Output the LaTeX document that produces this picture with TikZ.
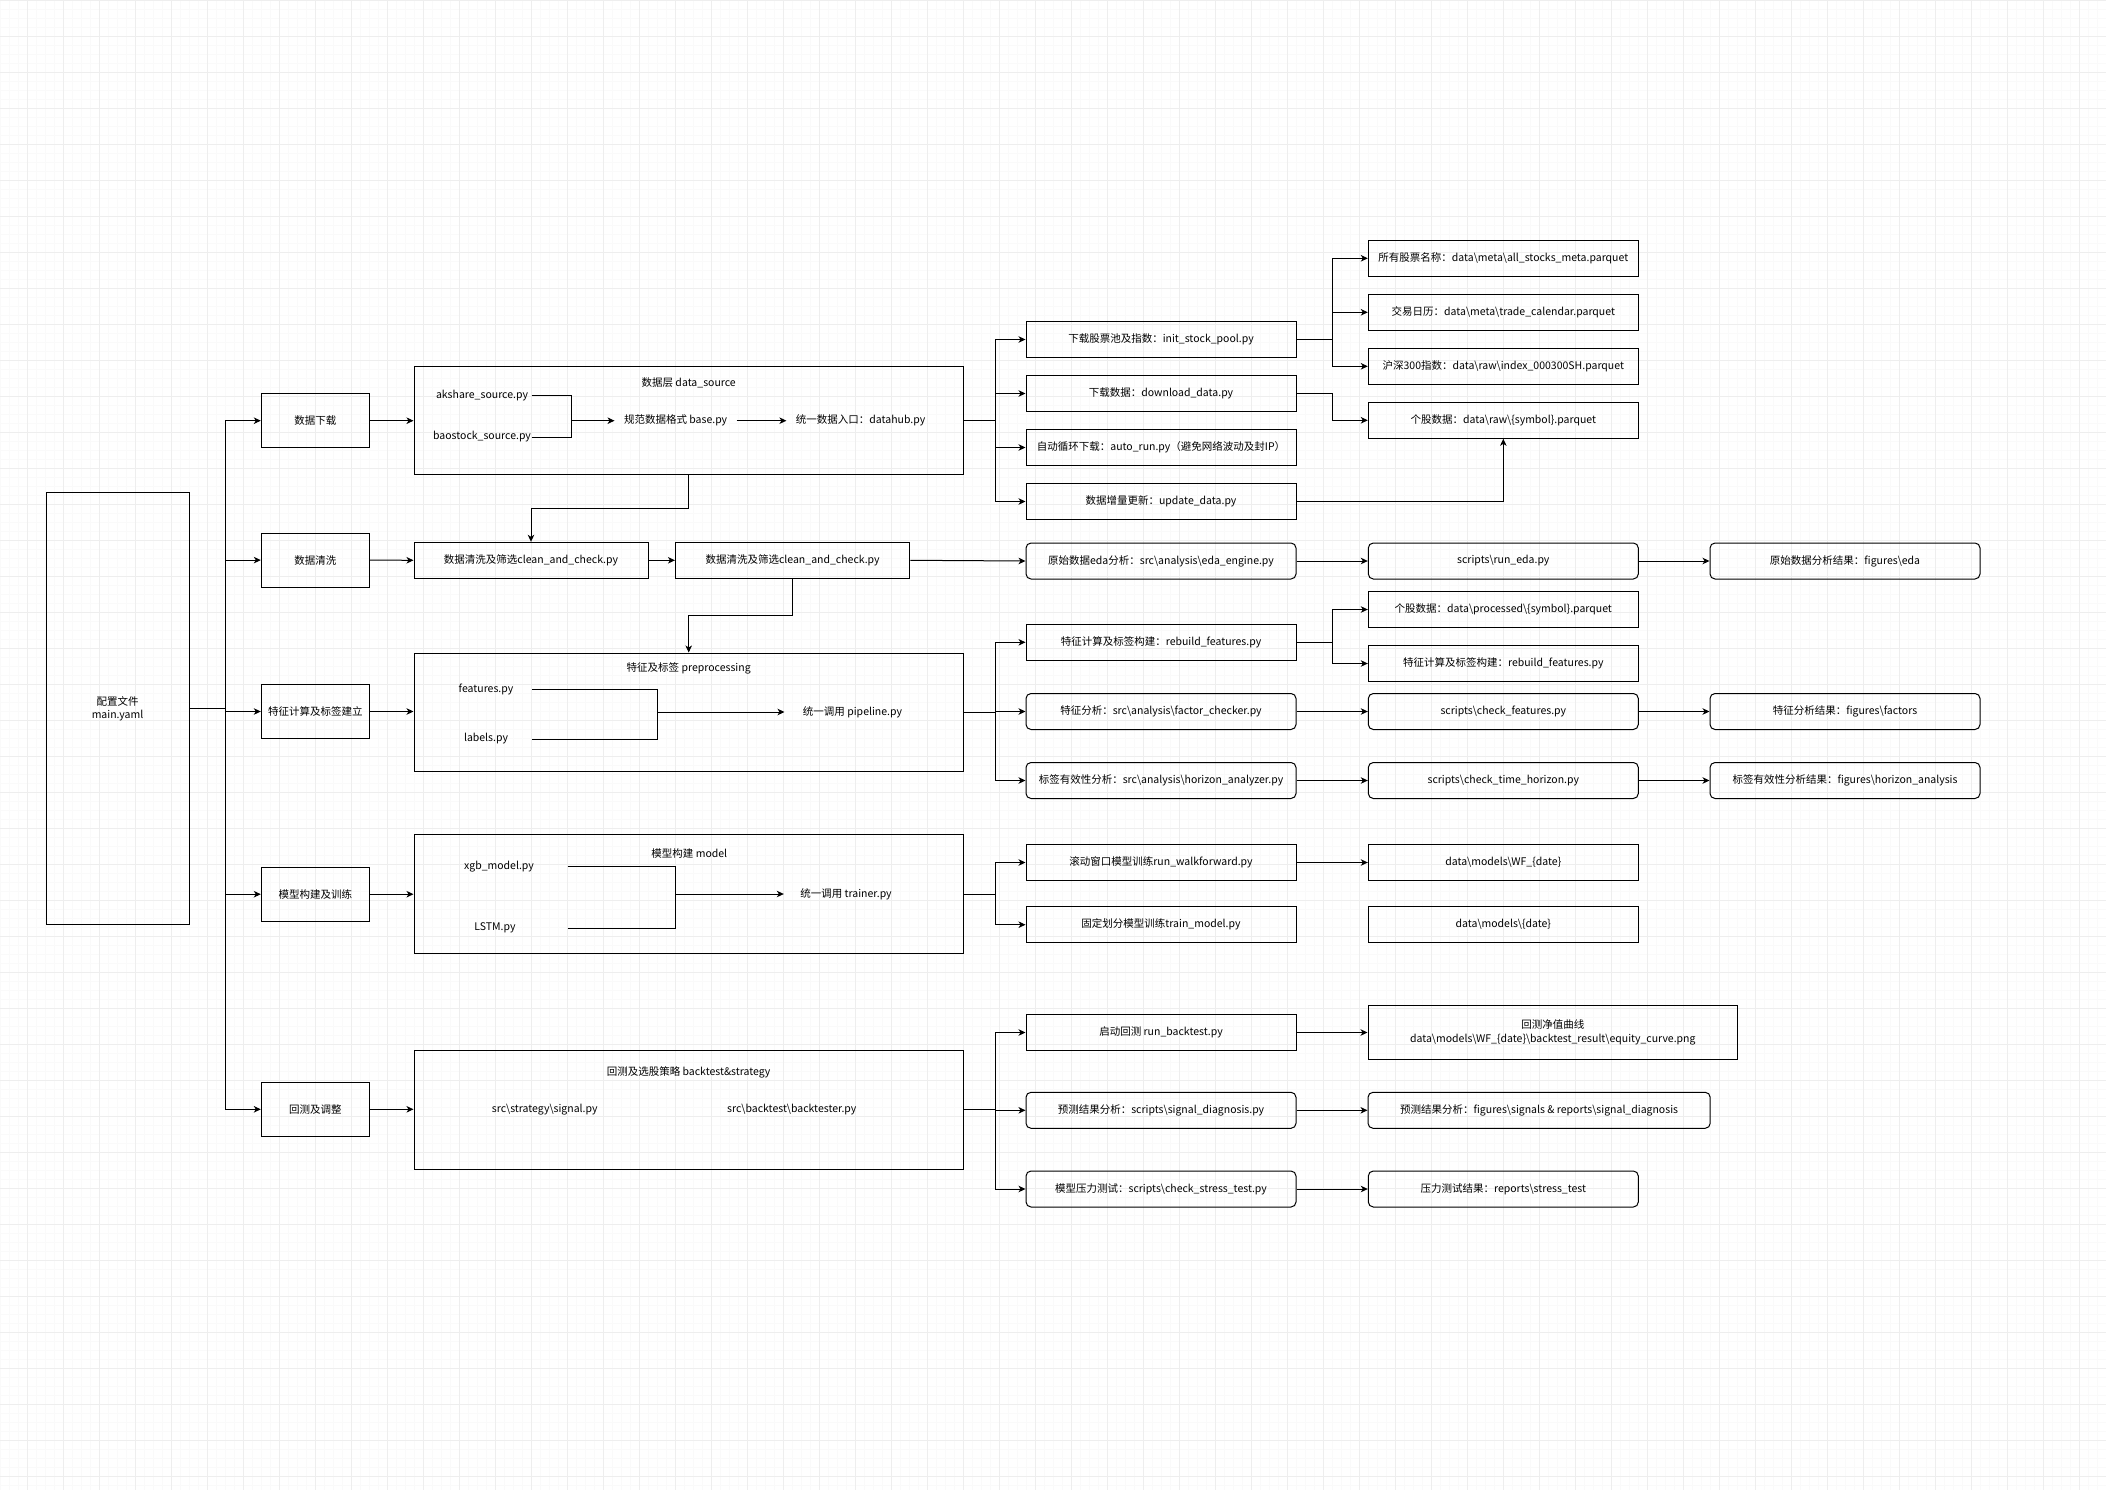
\documentclass[tikz,border=0pt]{standalone}
\usepackage{fontspec}
\setmainfont{Noto Sans CJK SC}
\usetikzlibrary{arrows.meta}
\newcommand{\bsl}{\textbackslash{}}

\begin{document}
\begin{tikzpicture}[x=1pt, y=-1pt, line width=1pt,
		font=\fontsize{10.5}{13.3}\selectfont,
		box/.style={draw, inner sep=0pt, minimum height=36pt, align=center},
		rbox/.style={box, rounded corners=5pt},
		stage/.style={box, minimum width=108pt, minimum height=54pt},
		group/.style={draw, inner sep=0pt, minimum width=549.4pt},
		colA/.style={minimum width=270pt},
		txt/.style={inner sep=0pt},
		arr/.style={-{Stealth[length=7pt, width=6.5pt, inset=2pt]}}]
		\useasboundingbox (0,0) rectangle (2106,1490);
		
		% 背景网格
		\fill[white] (0,0) rectangle (2106,1490);
		\foreach \gx in {0.3,9.3,...,2106} \draw[gray!4, line width=0.8pt] (\gx,0) -- (\gx,1490);
		\foreach \gy in {0,9,...,1490} \draw[gray!4, line width=0.8pt] (0,\gy) -- (2106,\gy);
		\foreach \gx in {27.3,63.3,...,2106} \draw[gray!13, line width=0.8pt] (\gx,0) -- (\gx,1490);
		\foreach \gy in {0,36,...,1490} \draw[gray!13, line width=0.8pt] (0,\gy) -- (2106,\gy);
		
		% 配置文件
		\node[box, minimum width=143pt, minimum height=432pt] (cfg) at (117.5,708.5) {配置文件\\main.yaml};
		
		% 各阶段
		\node[stage] (dl) at (315.3,420.7) {数据下载};
		\node[stage] (cl) at (315.3,560.1) {数据清洗};
		\node[stage] (ft) at (315.3,711.5) {特征计算及标签建立};
		\node[stage] (md) at (315.3,894.2) {模型构建及训练};
		\node[stage] (bt) at (315.3,1109.3) {回测及调整};
		
		% 数据层
		\node[group, minimum height=108pt] (ds) at (688.7,420.3) {};
		\node[txt] (dsT) at (688.7,383.3) {数据层 data\_source};
		\node[txt, minimum width=98pt] (ak) at (482,395.3) {akshare\_source.py};
		\node[txt, minimum width=98pt] (bao) at (482,437) {baostock\_source.py};
		\node[txt, inner sep=9pt] (base) at (675.6,420.7) {规范数据格式 base.py};
		\node[txt, inner sep=9pt] (hub) at (860.6,420.7) {统一数据入口：datahub.py};
		\coordinate (dsJ) at (571.3,420.7);
		
		% 数据清洗
		\node[box, minimum width=234pt] (cl1) at (531,560.3) {数据清洗及筛选clean\_and\_check.py};
		\node[box, minimum width=234.3pt] (cl2) at (792.6,560.3) {数据清洗及筛选clean\_and\_check.py};
		
		% 特征及标签
		\node[group, minimum height=118pt] (pre) at (688.7,712) {};
		\node[txt] (preT) at (688.7,668) {特征及标签 preprocessing};
		\node[txt, minimum width=91.4pt] (feat) at (486,689.3) {features.py};
		\node[txt, minimum width=91.4pt] (lab) at (486,739) {labels.py};
		\node[txt, inner sep=18pt] (pipe) at (852.5,712) {统一调用 pipeline.py};
		\coordinate (fJ) at (657.3,712);
		
		% 模型构建
		\node[group, minimum height=118.6pt] (mdl) at (688.7,894) {};
		\node[txt] (mdlT) at (689.3,853.3) {模型构建 model};
		\node[txt, minimum width=136.4pt] (xgb) at (499,866.7) {xgb\_model.py};
		\node[txt, minimum width=144.4pt] (lstm) at (495,928.3) {LSTM.py};
		\node[txt, inner sep=16pt] (trn) at (846,894) {统一调用 trainer.py};
		\coordinate (mJ) at (675.6,894);
		
		% 回测及选股策略
		\node[group, minimum height=119pt] (btc) at (688.7,1109.8) {};
		\node[txt] (btcT) at (688.6,1072.3) {回测及选股策略 backtest\&strategy};
		\node[txt] (sgl) at (544.7,1109.3) {src\bsl strategy\bsl signal.py};
		\node[txt] (bktr) at (791.8,1109.3) {src\bsl backtest\bsl backtester.py};
		
		% 下载脚本
		\node[box, colA] (pool) at (1161,339.5) {下载股票池及指数：init\_stock\_pool.py};
		\node[box, colA] (dd) at (1161,393.5) {下载数据：download\_data.py};
		\node[box, colA] (auto) at (1161,447.5) {自动循环下载：auto\_run.py（避免网络波动及封IP）};
		\node[box, colA] (upd) at (1161,501.5) {数据增量更新：update\_data.py};
		\node[box, colA] (meta) at (1503.3,258.3) {所有股票名称：data\bsl meta\bsl all\_stocks\_meta.parquet};
		\node[box, colA] (cal) at (1503.3,312.3) {交易日历：data\bsl meta\bsl trade\_calendar.parquet};
		\node[box, colA] (hs) at (1503.3,366.3) {沪深300指数：data\bsl raw\bsl index\_000300SH.parquet};
		\node[box, colA] (raw) at (1503.3,420.3) {个股数据：data\bsl raw\bsl\{symbol\}.parquet};
		
		% 分析脚本
		\node[rbox, colA] (eda) at (1161,561) {原始数据eda分析：src\bsl analysis\bsl eda\_engine.py};
		\node[rbox, colA] (runeda) at (1503.3,561) {scripts\bsl run\_eda.py};
		\node[rbox, colA] (edares) at (1845,561) {原始数据分析结果：figures\bsl eda};
		\node[box, colA] (reb) at (1161,642.3) {特征计算及标签构建：rebuild\_features.py};
		\node[box, colA] (proc) at (1503.3,609.5) {个股数据：data\bsl processed\bsl\{symbol\}.parquet};
		\node[box, colA] (rebB) at (1503.3,663.5) {特征计算及标签构建：rebuild\_features.py};
		\node[rbox, colA] (fac) at (1161,711.5) {特征分析：src\bsl analysis\bsl factor\_checker.py};
		\node[rbox, colA] (chkf) at (1503.3,711.5) {scripts\bsl check\_features.py};
		\node[rbox, colA] (facres) at (1845,711.5) {特征分析结果：figures\bsl factors};
		\node[rbox, colA] (hor) at (1161,780.5) {标签有效性分析：src\bsl analysis\bsl horizon\_analyzer.py};
		\node[rbox, colA] (chkh) at (1503.3,780.5) {scripts\bsl check\_time\_horizon.py};
		\node[rbox, colA] (horres) at (1845,780.5) {标签有效性分析结果：figures\bsl horizon\_analysis};
		
		% 训练脚本
		\node[box, colA] (wf) at (1161,862.5) {滚动窗口模型训练run\_walkforward.py};
		\node[box, colA] (tm) at (1161,924.7) {固定划分模型训练train\_model.py};
		\node[box, colA] (wfd) at (1503.3,862.5) {data\bsl models\bsl WF\_\{date\}};
		\node[box, colA] (mdd) at (1503.3,924.7) {data\bsl models\bsl\{date\}};
		
		% 回测脚本
		\node[box, colA] (rbt) at (1161,1032.5) {启动回测 run\_backtest.py};
		\node[box, minimum width=369.6pt, minimum height=54.4pt] (eq) at (1552.8,1032.5) {回测净值曲线\\data\bsl models\bsl WF\_\{date\}\bsl backtest\_result\bsl equity\_curve.png};
		\node[rbox, colA] (sig) at (1161,1110.3) {预测结果分析：scripts\bsl signal\_diagnosis.py};
		\node[rbox, minimum width=342.2pt] (sigres) at (1539.1,1110.3) {预测结果分析：figures\bsl signals \& reports\bsl signal\_diagnosis};
		\node[rbox, colA] (st) at (1161,1189) {模型压力测试：scripts\bsl check\_stress\_test.py};
		\node[rbox, colA] (stres) at (1503.3,1189) {压力测试结果：reports\bsl stress\_test};
		
		% 连线
		\foreach \s in {dl,cl,ft,md,bt} \draw[arr] (cfg.east) -- ++(36,0) |- (\s.west);
		\draw[arr] (dl.east) -- (dl.east -| ds.west);
		\draw[arr] (cl.east) -- (cl1.west);
		\draw[arr] (ft.east) -- (ft.east -| pre.west);
		\draw[arr] (md.east) -- (md.east -| mdl.west);
		\draw[arr] (bt.east) -- (bt.east -| btc.west);
		
		\draw (ak.east) -| (dsJ);
		\draw (bao.east) -| (dsJ);
		\draw[arr] (dsJ) -- (base.west);
		\draw[arr] (base.east) -- (hub.west);
		
		\draw[arr] (ds.south) -- ++(0,34) -| (cl1.north);
		\draw[arr] (cl1.east) -- (cl2.west);
		\draw[arr] (cl2.south) -- ++(0,37) -| (pre.north);
		
		\draw (feat.east) -| (fJ);
		\draw (lab.east) -| (fJ);
		\draw[arr] (fJ) -- (pipe.west);
		
		\draw (xgb.east) -| (mJ);
		\draw (lstm.east) -| (mJ);
		\draw[arr] (mJ) -- (trn.west);
		
		\foreach \s in {pool,dd,auto,upd} \draw[arr] (ds.east) -- ++(31.6,0) |- (\s.west);
		\foreach \s in {meta,cal,hs} \draw[arr] (pool.east) -- ++(36,0) |- (\s.west);
		\draw[arr] (dd.east) -- ++(36,0) |- (raw.west);
		\draw[arr] (upd.east) -| (raw.south);
		
		\draw[arr] (cl2.east) -- (eda.west);
		\draw[arr] (eda.east) -- (runeda.west);
		\draw[arr] (runeda.east) -- (edares.west);
		
		\foreach \s in {reb,fac,hor} \draw[arr] (pre.east) -- ++(31.6,0) |- (\s.west);
		\foreach \s in {proc,rebB} \draw[arr] (reb.east) -- ++(36,0) |- (\s.west);
		\draw[arr] (fac.east) -- (chkf.west);
		\draw[arr] (chkf.east) -- (facres.west);
		\draw[arr] (hor.east) -- (chkh.west);
		\draw[arr] (chkh.east) -- (horres.west);
		
		\foreach \s in {wf,tm} \draw[arr] (mdl.east) -- ++(31.6,0) |- (\s.west);
		\draw[arr] (wf.east) -- (wfd.west);
		
		\foreach \s in {rbt,sig,st} \draw[arr] (btc.east) -- ++(31.6,0) |- (\s.west);
		\draw[arr] (rbt.east) -- (eq.west);
		\draw[arr] (sig.east) -- (sigres.west);
		\draw[arr] (st.east) -- (stres.west);
	\end{tikzpicture}
\end{document}
